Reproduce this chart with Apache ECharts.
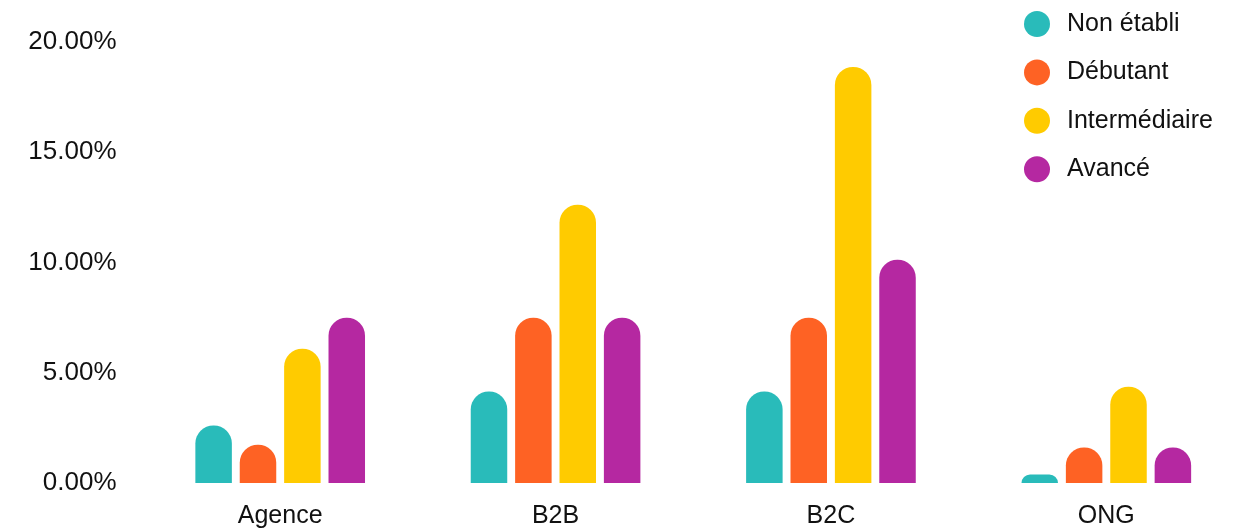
<!DOCTYPE html>
<html>
<head>
<meta charset="utf-8">
<script src="https://cdn.jsdelivr.net/npm/echarts@6/dist/echarts.min.js"></script>
<style>
  html, body { margin: 0; padding: 0; background: #ffffff; }
  #chart { width: 1244px; height: 529px; }
</style>
</head>
<body>
<div id="chart"></div>
<script>
// Sectors on the category axis
const categories = ['Agence', 'B2B', 'B2C', 'ONG'];

// Share of respondents per maturity level (percent)
const nonEtabli     = [2.61, 4.15, 4.15, 0.39];
const debutant      = [1.74, 7.50, 7.50, 1.61];
const intermediaire = [6.09, 12.62, 18.87, 4.37];
const avance        = [7.50, 7.50, 10.13, 1.61];

// Value axis ticks
const yTicks = [0, 5, 10, 15, 20];

const seriesNames = ['Non établi', 'Débutant', 'Intermédiaire', 'Avancé'];
const seriesData = [nonEtabli, debutant, intermediaire, avance];
const colors = ['#29BBBA', '#FE6224', '#FFCB00', '#B528A1'];

const fontFamily = '"Liberation Sans", Arial, sans-serif';

const chart = echarts.init(document.getElementById('chart'), null, { renderer: 'canvas' });

chart.setOption({
  animation: false,
  backgroundColor: '#ffffff',
  color: colors,
  textStyle: { fontFamily: fontFamily },
  grid: {
    left: 142.5,
    top: 42,
    width: 1108.4,
    height: 442,
    containLabel: false
  },
  legend: {
    orient: 'vertical',
    left: 1019,
    top: 6,
    icon: 'circle',
    itemWidth: 50,
    itemHeight: 26,
    itemGap: 22.4,
    data: seriesNames,
    textStyle: {
      fontFamily: fontFamily,
      fontSize: 25,
      color: '#111111',
      lineHeight: 26
    }
  },
  xAxis: {
    type: 'category',
    data: categories,
    axisLine: { show: false },
    axisTick: { show: false },
    splitLine: { show: false },
    axisLabel: {
      fontFamily: fontFamily,
      fontSize: 25,
      color: '#111111',
      margin: 21
    }
  },
  yAxis: {
    type: 'value',
    min: yTicks[0],
    max: yTicks[yTicks.length - 1],
    interval: yTicks[1] - yTicks[0],
    axisLine: { show: false },
    axisTick: { show: false },
    splitLine: { show: false },
    axisLabel: {
      fontFamily: fontFamily,
      fontSize: 26,
      color: '#111111',
      margin: 26,
      formatter: function (v) { return v.toFixed(2) + '%'; }
    }
  },
  series: seriesNames.map(function (name, i) {
    return {
      name: name,
      type: 'bar',
      data: seriesData[i],
      barWidth: 36.5,
      barGap: '21.6%',
      itemStyle: {
        color: colors[i],
        borderRadius: [18, 18, 0, 0]
      }
    };
  })
});
</script>
</body>
</html>
